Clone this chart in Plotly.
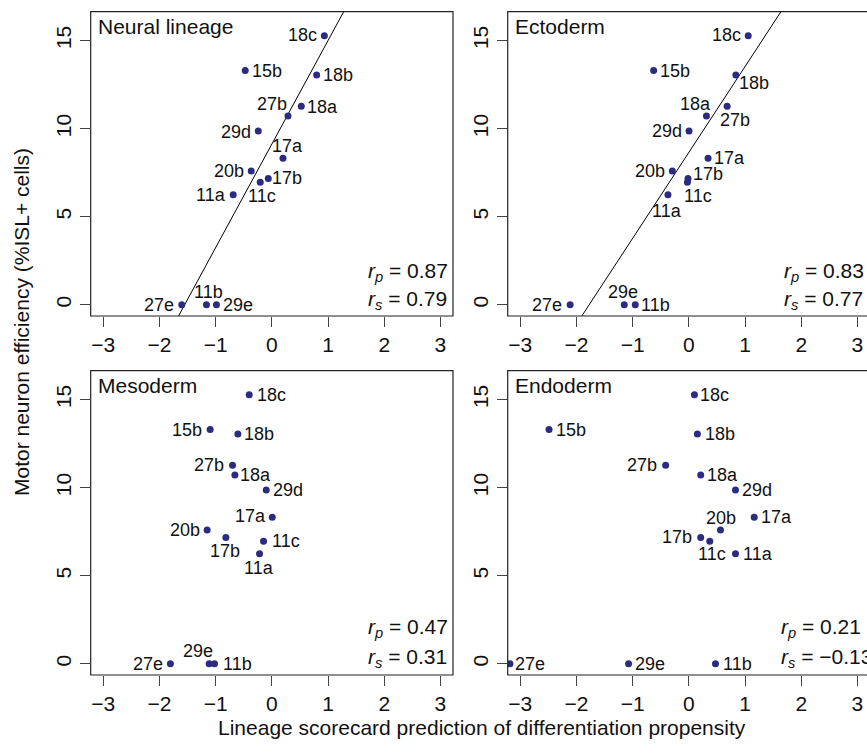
import numpy as np
import plotly.graph_objects as go

# ---------------- data ----------------
cell_lines = ["18c", "15b", "18b", "27b", "18a", "29d", "17a", "20b",
              "17b", "11c", "11a", "27e", "29e", "11b"]
mn_efficiency = [15.28, 13.30, 13.05, 11.27, 10.72, 9.87, 8.32, 7.60,
                 7.17, 6.96, 6.24, 0.0, 0.0, 0.0]

neural_score = [0.934, -0.474, 0.797, 0.524, 0.287, -0.242, 0.198, -0.367,
                -0.064, -0.207, -0.688, -1.603, -0.986, -1.164]
ectoderm_score = [1.056, -0.627, 0.836, 0.681, 0.313, 0.003, 0.342, -0.294,
                  -0.015, -0.026, -0.372, -2.113, -1.150, -0.954]
mesoderm_score = [-0.403, -1.098, -0.605, -0.700, -0.658, -0.100, 0.007, -1.152,
                  -0.818, -0.148, -0.219, -1.806, -1.116, -1.021]
endoderm_score = [0.099, -2.488, 0.152, -0.413, 0.211, 0.830, 1.163, 0.563,
                  0.211, 0.372, 0.830, -3.184, -1.073, 0.474]

panel_titles = ["Neural lineage", "Ectoderm", "Mesoderm", "Endoderm"]
pearson_r = ["0.87", "0.83", "0.47", "0.21"]
spearman_r = ["0.79", "0.77", "0.31", "\u22120.13"]
show_fit = [True, True, False, False]

x_ticks = [-3, -2, -1, 0, 1, 2, 3]
x_tick_text = ["\u22123", "\u22122", "\u22121", "0", "1", "2", "3"]
y_ticks = [0, 5, 10, 15]

x_title = "Lineage scorecard prediction of differentiation propensity"
y_title = "Motor neuron efficiency (%ISL+ cells)"

# ---------------- layout / style ----------------
W, H = 867, 753
FONT = "Liberation Sans, Arial, Helvetica, sans-serif"
DOT = "#2b2c80"
PX_PER_UNIT = 56.19
XMIN = -3.224
YR = [-0.64, 16.64]

# panel boxes in pixels: (left, right, top, bottom)
boxes = [(90.7, 453.0, 11.7, 316.0),
         (507.7, 867.0, 11.7, 316.0),
         (90.7, 453.0, 370.7, 675.0),
         (507.7, 867.0, 370.7, 675.0)]

# label offsets (screen px: dx right, dy down) of label centre from its point
L, R = -22.5, 21.5
label_offsets = [
    {"18c": (-21.7, -1), "15b": (R, 0), "18b": (R, 0), "27b": (-29.3, -2.3),
     "18a": (35, -9.3), "29d": (L, 0.7), "17a": (4.7, -12), "20b": (L, 0),
     "17b": (19, -0.7), "11c": (2, 14.3), "11a": (L, 0), "27e": (-23, 0),
     "11b": (2, -12.7), "29e": (22, 0)},
    {"18c": (-22, -1), "15b": (R, 0), "18b": (18, 8), "18a": (-11.3, -11.7),
     "27b": (8, 14), "29d": (L, 0), "17a": (R, 0), "20b": (L, 0),
     "17b": (19.7, -4), "11c": (10.3, 13.7), "11a": (-0.7, 16.3),
     "27e": (-23, 0), "29e": (-1, -12.7), "11b": (20.7, 0)},
    {"18c": (22.3, 0), "15b": (-23.3, 0), "18b": (R, 0), "27b": (-23.7, -0.7),
     "18a": (21, 0), "29d": (21.3, 0), "17a": (-22, -1), "20b": (L, 0),
     "17b": (-0.7, 13.7), "11c": (22.3, 0), "11a": (-0.7, 14), "27e": (L, 0),
     "29e": (-10.7, -12.7), "11b": (22.7, 0)},
    {"18c": (20.3, 0), "15b": (22, 0), "18b": (22.3, 0), "27b": (-24, -0.7),
     "18a": (21.3, 0), "29d": (21.7, 0), "17a": (22.3, -0.7), "20b": (0.3, -12),
     "17b": (-23.7, 0), "11c": (2, 12.7), "11a": (22.3, 0), "27e": (19.7, 0),
     "29e": (21.3, 0), "11b": (22, 0)},
]

# r text positions (left x, y of r_p line, y of r_s line) in px
r_pos = [(366, 271.7, 300), (781.7, 271.7, 300),
         (366, 628, 658), (779, 628, 658)]

scores = [neural_score, ectoderm_score, mesoderm_score, endoderm_score]

fig = go.Figure()
annotations = []
shapes = []


def px2paper_x(px):
    return px / W


def px2paper_y(py):
    return 1 - py / H


for i in range(4):
    n = "" if i == 0 else str(i + 1)
    xa, ya = "x" + n, "y" + n
    left, right, top, bottom = boxes[i]
    xr = [XMIN, XMIN + (right - left) / PX_PER_UNIT]
    common = dict(
        showgrid=False, zeroline=False, showline=False, automargin=False,
        ticks="outside", ticklen=10, tickwidth=1, tickcolor="#444",
        tickfont=dict(family=FONT, size=21, color="#111"),
    )
    fig.layout["xaxis" + n] = dict(
        domain=[px2paper_x(left), px2paper_x(right)], range=xr,
        anchor=ya, tickvals=x_ticks, ticktext=x_tick_text, **common)
    fig.layout["yaxis" + n] = dict(
        domain=[px2paper_y(bottom), px2paper_y(top)], range=YR,
        anchor=xa, tickvals=y_ticks, tickangle=-90, **common)

    xs = scores[i]
    if show_fit[i]:
        slope, intercept = np.polyfit(xs, mn_efficiency, 1)
        lx = np.array([-3.5, 3.5])
        fig.add_trace(go.Scatter(
            x=lx, y=intercept + slope * lx, mode="lines",
            line=dict(color="#000", width=1), xaxis=xa, yaxis=ya,
            hoverinfo="skip", showlegend=False))
    fig.add_trace(go.Scatter(
        x=xs, y=mn_efficiency, mode="markers",
        marker=dict(color=DOT, size=7), xaxis=xa, yaxis=ya,
        text=cell_lines, showlegend=False))

    for name, xv, yv in zip(cell_lines, xs, mn_efficiency):
        dx, dy = label_offsets[i][name]
        annotations.append(dict(
            x=xv, y=yv, xref=xa, yref=ya, text=name, showarrow=False,
            xanchor="center", yanchor="middle", xshift=dx, yshift=-dy,
            font=dict(family=FONT, size=18, color="#111")))

    # panel box
    shapes.append(dict(
        type="rect", xref=xa + " domain", yref=ya + " domain",
        x0=0, x1=1 if right < W else 1.05, y0=0, y1=1,
        line=dict(color="#222", width=1.2), fillcolor="rgba(0,0,0,0)"))

    # panel title
    annotations.append(dict(
        x=px2paper_x(left + 5), y=px2paper_y(top + 15), xref="paper",
        yref="paper", text=panel_titles[i], showarrow=False,
        xanchor="left", yanchor="middle",
        font=dict(family=FONT, size=21, color="#111")))

    rx, ryp, rys = r_pos[i]
    annotations.append(dict(
        x=px2paper_x(rx), y=px2paper_y(ryp), xref="paper", yref="paper",
        text="<i>r</i><sub><i>p</i></sub> = " + pearson_r[i], showarrow=False,
        xanchor="left", yanchor="middle",
        font=dict(family=FONT, size=21, color="#111")))
    annotations.append(dict(
        x=px2paper_x(rx), y=px2paper_y(rys), xref="paper", yref="paper",
        text="<i>r</i><sub><i>s</i></sub> = " + spearman_r[i], showarrow=False,
        xanchor="left", yanchor="middle",
        font=dict(family=FONT, size=21, color="#111")))

annotations.append(dict(
    x=px2paper_x(482), y=px2paper_y(727), xref="paper", yref="paper",
    text=x_title, showarrow=False, xanchor="center", yanchor="middle",
    font=dict(family=FONT, size=21, color="#111")))
annotations.append(dict(
    x=px2paper_x(21), y=px2paper_y(322), xref="paper", yref="paper",
    text=y_title, showarrow=False, xanchor="center", yanchor="middle",
    textangle=-90, font=dict(family=FONT, size=21, color="#111")))

fig.update_layout(
    template="none",
    width=W, height=H, margin=dict(l=0, r=0, t=0, b=0, pad=0),
    paper_bgcolor="white", plot_bgcolor="white",
    annotations=annotations, shapes=shapes, showlegend=False,
)

fig.write_html(
    "out.html",
    config={"displayModeBar": False, "staticPlot": True},
    post_script="document.body.style.margin='0';"
                "document.body.style.overflow='hidden';",
)
